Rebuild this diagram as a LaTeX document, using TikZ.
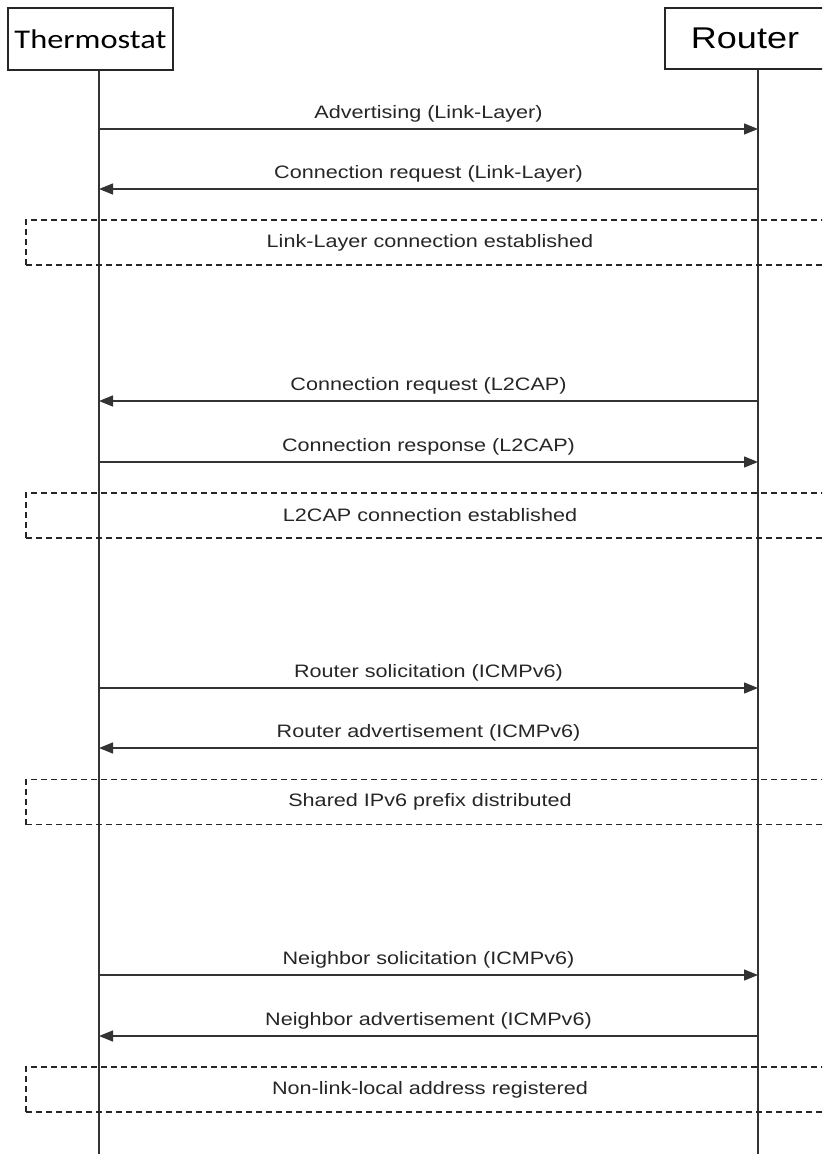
\documentclass[tikz,border=0pt]{standalone}
\usepackage{fontspec}
\usepackage{graphicx}
\setmainfont{Liberation Sans}
\newfontfamily\headfont{Carlito}
\usetikzlibrary{arrows.meta}

% horizontally widened lettering
\newcommand{\wtext}[1]{\scalebox{1.2}[1]{#1}}

\tikzset{
  party/.style={draw=black!85, line width=1.2pt, fill=white, inner sep=0pt},
  lifeline/.style={draw=black!80, line width=1.6pt},
  msg/.style={draw=black!80, line width=1.3pt,
              -{Triangle[length=14pt,width=11pt]}},
  msglabel/.style={font=\fontsize{18}{20}\selectfont, text=black!85,
                   inner sep=0pt},
  phase/.style={draw=black!85, line width=1.2pt, dash pattern=on 6pt off 4pt,
                minimum width=808pt, minimum height=45pt, inner sep=0pt,
                font=\fontsize{18}{20}\selectfont, text=black!85},
}

\begin{document}
\begin{tikzpicture}[x=1pt, y=-1pt]
  \useasboundingbox (0,0) rectangle (822,1154);
  \clip (0,0) rectangle (822,1154);

  % participants
  \node[party, minimum width=165pt, minimum height=62pt] (T) at (90.5,39)
    {\headfont\fontsize{27}{29}\selectfont\wtext{Thermostat}};
  \node[party, minimum width=160pt, minimum height=61pt] (R) at (745,38.5)
    {\fontsize{30}{32}\selectfont\wtext{Router}};

  % lifeline ends
  \coordinate (Tend) at (99,1160);
  \coordinate (Rend) at (758,1160);
  \draw[lifeline] (T.south -| Tend) -- (Tend);
  \draw[lifeline] (R.south -| Rend) -- (Rend);

  % message anchor points on the lifelines
  \foreach \n/\y in {1/129, 2/189, 3/401, 4/462, 5/688, 6/748, 7/975, 8/1036} {
    \coordinate (t\n) at (99,\y);
    \coordinate (r\n) at (758,\y);
  }

  % messages
  \draw[msg] (t1) -- node[msglabel, above=6pt] {\wtext{Advertising (Link-Layer)}} (r1);
  \draw[msg] (r2) -- node[msglabel, above=6pt] {\wtext{Connection request (Link-Layer)}} (t2);
  \draw[msg] (r3) -- node[msglabel, above=6pt] {\wtext{Connection request (L2CAP)}} (t3);
  \draw[msg] (t4) -- node[msglabel, above=6pt] {\wtext{Connection response (L2CAP)}} (r4);
  \draw[msg] (t5) -- node[msglabel, above=6pt] {\wtext{Router solicitation (ICMPv6)}} (r5);
  \draw[msg] (r6) -- node[msglabel, above=6pt] {\wtext{Router advertisement (ICMPv6)}} (t6);
  \draw[msg] (t7) -- node[msglabel, above=6pt] {\wtext{Neighbor solicitation (ICMPv6)}} (r7);
  \draw[msg] (r8) -- node[msglabel, above=6pt] {\wtext{Neighbor advertisement (ICMPv6)}} (t8);

  % phase boxes
  \node[phase] (P1) at (430,242.5) {\wtext{Link-Layer connection established}};
  \node[phase] (P2) at (430,515.5) {\wtext{L2CAP connection established}};
  \node[phase] (P3) at (430,802) {\wtext{Shared IPv6 prefix distributed}};
  \node[phase] (P4) at (430,1089.5) {\wtext{Non-link-local address registered}};
\end{tikzpicture}
\end{document}
